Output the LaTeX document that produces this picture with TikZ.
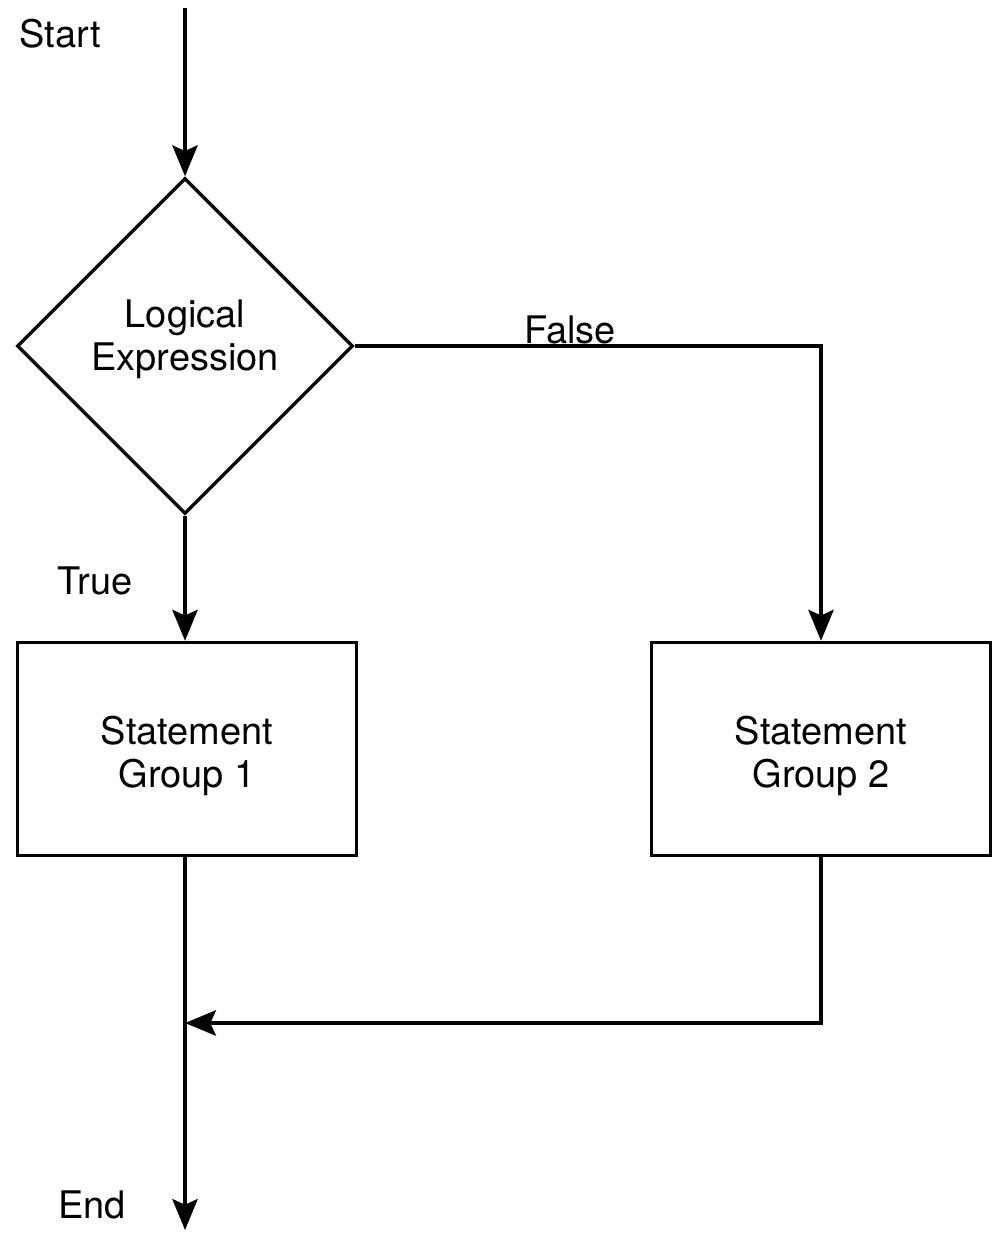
\documentclass[tikz,border=0pt]{standalone}
\usepackage{fontspec}
\setmainfont{TeX Gyre Heros}
\usetikzlibrary{shapes.geometric, arrows.meta, positioning}

% two centred lines, moved up or down a little inside their shape
\newcommand{\twolines}[3]{\raisebox{#1}[\height][\depth]{\begin{tabular}{@{}c@{}}#2\\#3\end{tabular}}}

\tikzset{
  flow/.style={line width=2.4pt, -{Stealth[length=22pt, width=18pt, inset=4pt]}},
  decision/.style={draw, line width=2.4pt, diamond, aspect=1, inner sep=0pt,
    minimum size=8.4cm},
  stmt/.style={draw, line width=2.4pt, rectangle, minimum width=8.475cm,
    minimum height=5.325cm},
  lbl/.style={inner sep=0pt}
}

\begin{document}
\begin{tikzpicture}[x=0.025cm, y=-0.025cm, font=\fontsize{27}{30.5}\selectfont]
  % page frame in pixel units (y grows downwards)
  \useasboundingbox (0,0) rectangle (997,1235);
  % ---------- decision ----------
  \node[decision] (cond) at (185,346) {\twolines{4pt}{Logical}{Expression}};
  % ---------- statement groups ----------
  \node[stmt] (grp1) at (187,749) {\twolines{-6pt}{Statement}{Group 1}};
  \node[stmt] (grp2) at (821,749) {\twolines{-6pt}{Statement}{Group 2}};
  % free ends of the connectors
  \coordinate (entry) at (185,8);
  \coordinate (join) at (185,1023);
  \coordinate (exit) at (185,1230);
  % ---------- labels ----------
  \node[lbl] (start) at (60,34) {Start};
  \node[lbl] (truelbl) at (95,581) {True};
  \node[lbl] (falselbl) at (570,330) {False};
  \node[lbl] (endlbl) at (92,1205) {End};
  % ---------- connectors ----------
  \draw[flow] (entry) -- (cond.north);
  \draw[flow] (cond.south) -- (cond.south |- grp1.north);
  \draw[flow] (cond.east) -| (grp2.north);
  \draw[flow] (grp2.south) |- (join);
  \draw[flow] (cond.south |- grp1.south) -- (exit);
\end{tikzpicture}
\end{document}
